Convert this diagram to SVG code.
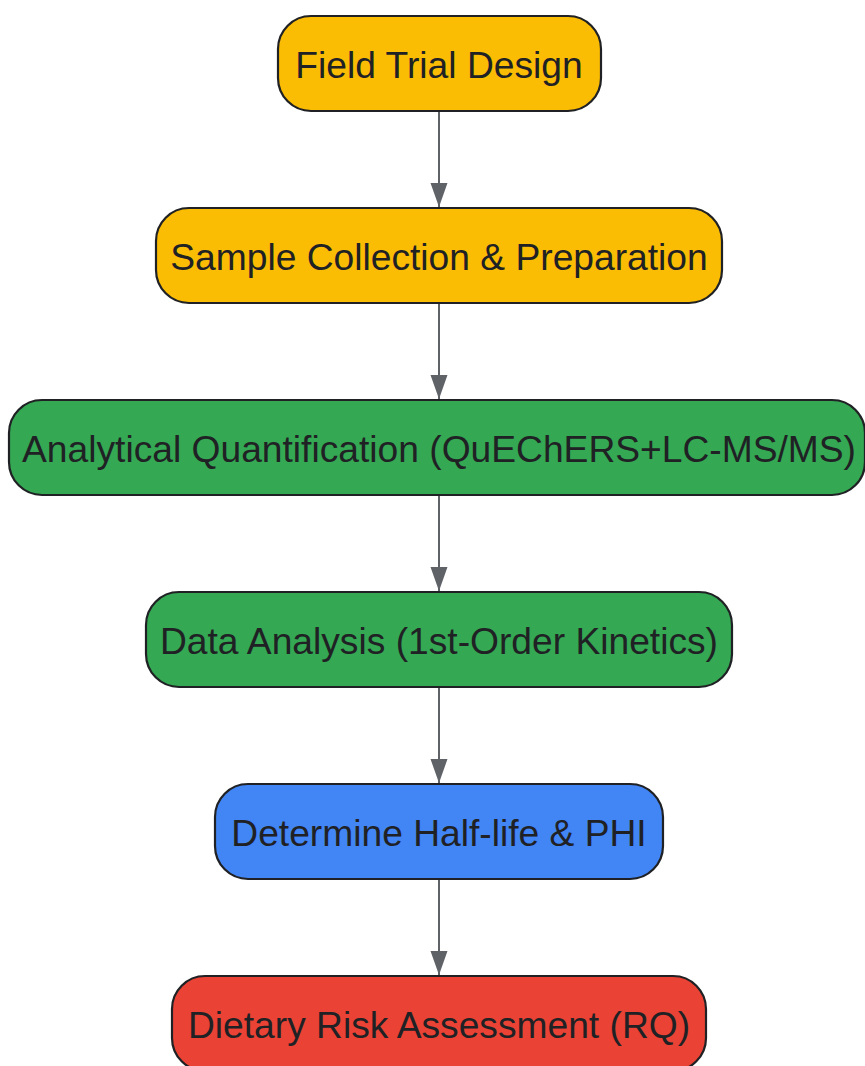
<svg xmlns="http://www.w3.org/2000/svg" width="865" height="1066" viewBox="0 0 865 1066">
<defs>
<style>
.n rect{stroke:#202124;stroke-width:2.2}
.n text{font-family:"Liberation Sans",Arial,sans-serif;font-size:37.2px;fill:#202124;text-anchor:middle;dominant-baseline:central}
.y{fill:#FBBC04}.g{fill:#34A853}.b{fill:#4285F4}.r{fill:#EA4335}
.e line{stroke:#5f6368;stroke-width:2}
</style>
<marker id="ah" markerWidth="24" markerHeight="18" refX="24" refY="9" orient="auto" markerUnits="userSpaceOnUse" viewBox="0 0 24 18">
<path d="M0,0.5 L24,9 L0,17.5 Z" fill="#5f6368"/>
</marker>
</defs>
<rect width="865" height="1066" fill="#ffffff"/>
<g id="edges" class="e">
<line x1="439" y1="111" x2="439" y2="207" marker-end="url(#ah)"/>
<line x1="439" y1="303" x2="439" y2="399" marker-end="url(#ah)"/>
<line x1="439" y1="495" x2="439" y2="591" marker-end="url(#ah)"/>
<line x1="439" y1="687" x2="439" y2="783" marker-end="url(#ah)"/>
<line x1="439" y1="879" x2="439" y2="975" marker-end="url(#ah)"/>
</g>
<g id="n1" class="n"><rect class="y" x="278" y="16" width="323" height="95" rx="33"/><text x="439" y="65">Field Trial Design</text></g>
<g id="n2" class="n"><rect class="y" x="156" y="208" width="566" height="95" rx="33"/><text x="439" y="257">Sample Collection &amp; Preparation</text></g>
<g id="n3" class="n"><rect class="g" x="9" y="400" width="856" height="95" rx="33"/><text x="439" y="449">Analytical Quantification (QuEChERS+LC-MS/MS)</text></g>
<g id="n4" class="n"><rect class="g" x="146" y="592" width="586" height="95" rx="33"/><text x="439" y="641">Data Analysis (1st-Order Kinetics)</text></g>
<g id="n5" class="n"><rect class="b" x="215" y="784" width="448" height="95" rx="33"/><text x="439" y="833">Determine Half-life &amp; PHI</text></g>
<g id="n6" class="n"><rect class="r" x="172" y="976" width="534" height="95" rx="33"/><text x="439" y="1025">Dietary Risk Assessment (RQ)</text></g>
</svg>
